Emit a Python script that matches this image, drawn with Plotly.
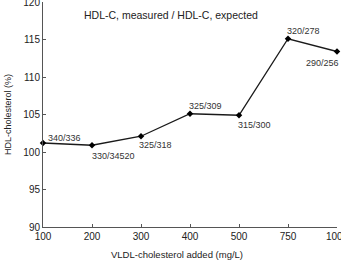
import plotly.graph_objects as go

categories = ["100", "200", "300", "400", "500", "750", "1000"]
values = [101.2, 100.9, 102.1, 105.1, 104.9, 115.1, 113.4]
labels = ["340/336", "330/34520", "325/318", "325/309", "315/300", "320/278", "290/256"]
# label offsets in pixels (left edge dx, vertical center dy; up positive)
label_dx = [3, -2, -4, -3, -3, -3, -33]
label_dy = [5, -11, -9, 8, -10, 8, -11]

FONT = "Liberation Sans, Arial"
fig = go.Figure()
fig.add_trace(go.Scatter(
    x=categories, y=values, mode="lines+markers",
    line=dict(color="#1a1a1a", width=1.3),
    marker=dict(symbol="diamond", size=5, color="#000000"),
    cliponaxis=False, showlegend=False,
))
for i, (v, t, dx, dy) in enumerate(zip(values, labels, label_dx, label_dy)):
    fig.add_annotation(x=i, y=v, text=t, showarrow=False, xanchor="left", yanchor="middle",
                       xshift=dx, yshift=dy,
                       font=dict(family=FONT, size=9, color="#333333"))
fig.add_annotation(text="HDL-C, measured / HDL-C, expected", x=0.435, y=0.942,
                   xref="paper", yref="paper", showarrow=False, xanchor="center", yanchor="middle",
                   font=dict(family=FONT, size=10.5, color="#222222"))
fig.add_annotation(text="VLDL-cholesterol added (mg/L)", x=0.456, y=-0.124,
                   xref="paper", yref="paper", showarrow=False, xanchor="center", yanchor="middle",
                   font=dict(family=FONT, size=9.5, color="#222222"))
axis_font = dict(family=FONT, size=10, color="#222222")
fig.update_layout(
    width=341, height=261, margin=dict(l=43, r=4, t=2, b=34),
    plot_bgcolor="white", paper_bgcolor="white",
    xaxis=dict(type="category", range=[0, 6], showline=True, linecolor="#555555", linewidth=1,
               ticks="inside", ticklen=3, tickcolor="#555555", showgrid=False, zeroline=False,
               tickfont=axis_font, ticklabeloverflow="allow", automargin=False),
    yaxis=dict(range=[90, 120], tickvals=[90, 95, 100, 105, 110, 115, 120], showline=True, linecolor="#555555", linewidth=1,
               ticks="inside", ticklen=3, tickcolor="#555555", showgrid=False, zeroline=False,
               tickfont=axis_font, ticklabeloverflow="allow", automargin=False,
               title=dict(text="HDL-cholesterol (%)", font=dict(family=FONT, size=9, color="#222222"), standoff=10)),
)
fig.write_html("out.html")
